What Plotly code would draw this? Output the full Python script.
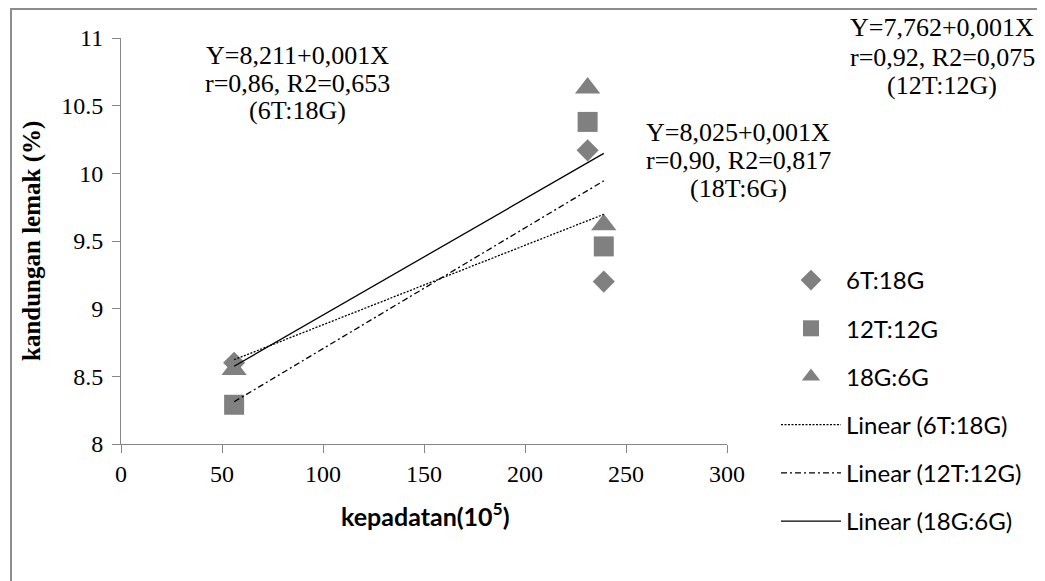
import numpy as np
import plotly.graph_objects as go

# ---- data ----
density = [56, 231, 239]                    # kepadatan (10^5)
fat_6T18G = [8.60, 10.17, 9.20]             # 6T:18G
fat_12T12G = [8.29, 10.38, 9.46]            # 12T:12G
fat_18G6G = [8.55, 10.63, 9.62]             # 18G:6G

series_names = ["6T:18G", "12T:12G", "18G:6G"]
trend_names = ["Linear (6T:18G)", "Linear (12T:12G)", "Linear (18G:6G)"]
x_ticks = [0, 50, 100, 150, 200, 250, 300]
y_ticks = [8, 8.5, 9, 9.5, 10, 10.5, 11]

eq_6T = ["Y=8,211+0,001X", "r=0,86, R2=0,653", "(6T:18G)"]
eq_18T = ["Y=8,025+0,001X", "r=0,90, R2=0,817", "(18T:6G)"]
eq_12T = ["Y=7,762+0,001X", "r=0,92, R2=0,075", "(12T:12G)"]

# ---- layout helpers (page body has an 8px margin) ----
PAGE_OFF = 8
W, H = 1045 - PAGE_OFF, 581 - PAGE_OFF
PL, PT, PR, PB = 121, 38, 727, 444        # plot area in screen pixels
L, T = PL - PAGE_OFF, PT - PAGE_OFF
PW, PH = PR - PL, PB - PT
R, B = W - L - PW, H - T - PH


def px_x(px):
    return (px - PL) / PW


def px_y(py):
    return (PB - py) / PH


GRAY = "#808080"
SERIF = "Liberation Serif"
SANS = "Lato"

fig = go.Figure()

symbols = ["diamond", "square", "triangle-up"]
sizes = [17, 20, 22]
all_y = [fat_6T18G, fat_12T12G, fat_18G6G]
for i, (name, ys) in enumerate(zip(series_names, all_y)):
    fig.add_trace(go.Scatter(
        x=density, y=ys, mode="markers", name=name,
        legendgroup=f"g{i}",
        marker=dict(symbol=symbols[i], size=sizes[i], color=GRAY,
                    line=dict(width=0)),
    ))

dashes = ["2px,1.5px", "6px,3px,2px,3px", "solid"]
for i, (name, ys) in enumerate(zip(trend_names, all_y)):
    slope, intercept = np.polyfit(density, ys, 1)
    xs = [min(density), max(density)]
    fig.add_trace(go.Scatter(
        x=xs, y=[intercept + slope * v for v in xs], mode="lines", name=name,
        legendgroup=f"t{i}",
        line=dict(color="black", width=1.3, dash=dashes[i]),
    ))

annotations = []


def add_block(lines, cx, cys):
    for txt, cy in zip(lines, cys):
        annotations.append(dict(
            text=txt, x=px_x(cx), y=px_y(cy), xref="paper", yref="paper",
            xanchor="center", yanchor="middle", showarrow=False,
            font=dict(family=SERIF, size=26, color="black"),
        ))


add_block(eq_6T, 297, [55, 83, 110])
add_block(eq_18T, 738, [132, 160, 188])
add_block(eq_12T, 942, [28, 57, 85])

annotations.append(dict(
    text="<b>kandungan lemak (%)</b>", x=px_x(32), y=px_y(241),
    xref="paper", yref="paper", xanchor="center", yanchor="middle",
    textangle=-90, showarrow=False,
    font=dict(family=SERIF, size=25, color="black"),
))
annotations.append(dict(
    text="<b>kepadatan(10<sup>5</sup>)</b>", x=px_x(425), y=px_y(514),
    xref="paper", yref="paper", xanchor="center", yanchor="middle",
    showarrow=False,
    font=dict(family=SANS, size=25, color="black"),
))

frame = dict(color="#8c8c8c", width=2)
fig.update_layout(
    width=W, height=H,
    margin=dict(l=L, r=R, t=T, b=B, autoexpand=False),
    paper_bgcolor="white", plot_bgcolor="white",
    showlegend=True,
    legend=dict(
        x=px_x(776), y=px_y(258), xanchor="left", yanchor="top",
        font=dict(family=SANS, size=24, color="black"),
        tracegroupgap=14, traceorder="grouped", itemwidth=60,
        bgcolor="rgba(0,0,0,0)",
    ),
    annotations=annotations,
    shapes=[
        dict(type="line", xref="paper", yref="paper",
             x0=px_x(11), x1=px_x(1060), y0=px_y(9), y1=px_y(9),
             line=frame, layer="above"),
        dict(type="line", xref="paper", yref="paper",
             x0=px_x(11), x1=px_x(11), y0=px_y(8), y1=px_y(600),
             line=frame, layer="above"),
    ],
    xaxis=dict(
        range=[0, 300], tickvals=x_ticks, showgrid=False, zeroline=False,
        showline=True, linecolor="#868686", linewidth=1,
        ticks="outside", ticklen=8, tickcolor="#868686",
        tickfont=dict(family=SERIF, size=24, color="black"),
        ticklabelstandoff=0,
    ),
    yaxis=dict(
        range=[8, 11], tickvals=y_ticks, showgrid=False, zeroline=False,
        showline=True, linecolor="#868686", linewidth=1,
        ticks="outside", ticklen=8, tickcolor="#868686",
        tickfont=dict(family=SERIF, size=24, color="black"),
        ticklabelstandoff=4,
    ),
)

fig.write_html("out.html")
